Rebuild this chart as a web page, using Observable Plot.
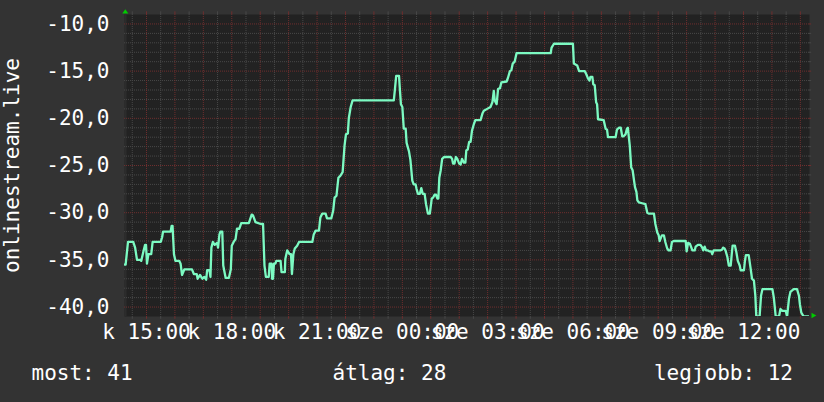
<!DOCTYPE html>
<html><head><meta charset="utf-8">
<script src="https://cdn.jsdelivr.net/npm/d3@7"></script>
<script src="https://cdn.jsdelivr.net/npm/@observablehq/plot@0.6"></script>
<style>
html,body{margin:0;padding:0;background:#333;}
#wrap{width:824px;height:402px;background:#333;position:relative;overflow:hidden;font-family:"DejaVu Sans Mono",monospace;color:#fff;}
#wrap svg{display:block;}
#legend{position:relative;height:50px;font-size:21px;line-height:21px;}
#legend span{position:absolute;top:11px;white-space:pre;}
</style></head><body><div id="wrap"></div>
<script>
// time in minutes since Tuesday (kedd) 00:00
const minutes = [
854,856,861,872,876,880,887,889,894,897,
899,901,904,910,913,930,933,935,951,953,
955,958,961,969,972,975,980,996,1000,1006,
1008,1013,1018,1022,1026,1028,1033,1035,1037,1040,
1044,1049,1051,1054,1056,1060,1062,1067,1074,1078,
1080,1084,1088,1091,1096,1100,1116,1122,1125,1130,
1141,1146,1149,1152,1158,1160,1164,1165,1167,1169,
1172,1174,1183,1185,1192,1193,1197,1202,1205,1207,
1210,1213,1218,1222,1250,1253,1257,1264,1267,1271,
1278,1281,1290,1294,1297,1301,1305,1309,1314,1318,
1321,1325,1327,1331,1335,1422,1424,1427,1433,1435,
1437,1440,1443,1447,1449,1454,1457,1461,1464,1468,
1470,1473,1477,1480,1483,1487,1490,1494,1498,1502,
1505,1508,1511,1514,1516,1518,1521,1524,1528,1542,
1545,1547,1550,1553,1556,1560,1563,1566,1570,1573,
1575,1578,1581,1584,1587,1591,1594,1605,1609,1612,
1619,1626,1630,1633,1635,1639,1642,1646,1649,1660,
1663,1667,1670,1673,1677,1681,1753,1755,1760,1800,
1802,1809,1813,1825,1828,1832,1835,1837,1841,1843,
1846,1849,1851,1853,1865,1869,1872,1874,1890,1893,
1897,1901,1904,1907,1911,1914,1916,1918,1920,1923,
1926,1929,1931,1934,1936,1939,1946,1953,1957,1960,
1971,1974,1978,1981,1983,1986,1988,1992,1995,1999,
2002,2006,2009,2013,2038,2040,2043,2047,2050,2052,
2057,2059,2064,2069,2073,2075,2078,2081,2085,2088,
2092,2094,2097,2111,2115,2117,2120,2122,2126,2129,
2133,2135,2137,2142,2145,2148,2152,2154,2161,2163,
2165,2171,2175,2178,2182,2185,2187,2194,2197,2200,
2221,2224,2228,2235,2238,2242,2249,2252,2256,2259,
2266,2273,2277,2279,2282,2287,2299
];
const values = [
-35.5,-35.5,-33.1,-33.1,-33.7,-35.0,-35.0,-35.1,-34.0,-33.4,
-33.4,-35.4,-34.4,-34.4,-33.1,-33.1,-32.6,-32.0,-32.0,-31.4,
-31.4,-34.4,-35.1,-35.1,-35.4,-36.6,-36.0,-36.0,-36.5,-36.5,
-37.0,-36.6,-37.0,-36.8,-37.1,-36.1,-36.1,-36.8,-33.7,-33.1,
-33.4,-33.2,-33.7,-32.3,-32.0,-32.0,-35.6,-36.9,-36.9,-36.0,
-33.5,-33.1,-32.8,-31.7,-31.7,-31.1,-31.1,-30.2,-30.3,-31.0,
-31.2,-31.2,-35.6,-36.8,-36.8,-35.4,-35.4,-37.0,-37.0,-35.4,
-35.4,-35.1,-35.1,-36.3,-36.3,-34.9,-34.0,-34.4,-34.4,-36.5,
-34.4,-33.8,-33.5,-33.1,-33.1,-32.3,-31.9,-31.9,-30.5,-30.1,
-30.1,-30.6,-30.6,-29.8,-28.4,-28.2,-26.3,-26.1,-25.7,-22.9,
-21.7,-21.6,-20.0,-18.8,-18.1,-18.1,-17.1,-15.5,-15.5,-17.1,
-18.5,-18.8,-21.1,-21.1,-22.6,-23.5,-24.4,-26.6,-27.0,-27.0,
-27.5,-28.0,-28.0,-27.4,-28.0,-28.0,-29.1,-30.1,-30.1,-28.5,
-28.4,-28.1,-28.1,-28.5,-28.5,-26.3,-25.5,-24.3,-24.1,-24.1,
-24.3,-24.8,-24.8,-24.1,-24.3,-24.8,-24.9,-24.3,-24.7,-24.7,
-23.4,-23.3,-22.5,-22.5,-21.3,-20.6,-20.2,-20.2,-19.5,-19.2,
-19.0,-18.8,-18.3,-17.1,-18.1,-18.5,-16.9,-16.8,-16.2,-16.1,
-15.7,-15.0,-14.9,-14.2,-14.0,-13.1,-13.1,-12.5,-12.1,-12.1,
-14.2,-14.4,-15.0,-15.0,-15.3,-15.8,-16.0,-15.6,-15.6,-16.4,
-16.5,-18.3,-18.5,-20.1,-20.2,-21.1,-21.2,-22.0,-22.0,-21.2,
-21.0,-21.0,-21.9,-21.9,-21.7,-21.1,-21.0,-22.0,-22.9,-25.2,
-25.5,-26.6,-27.3,-27.8,-28.7,-28.9,-29.0,-29.1,-30.0,-30.1,
-30.1,-31.2,-32.1,-32.4,-33.0,-32.6,-32.4,-32.4,-33.1,-33.8,
-34.0,-34.0,-33.1,-33.0,-33.0,-34.1,-33.2,-33.3,-33.7,-34.0,
-34.0,-33.6,-33.4,-33.4,-33.7,-34.0,-33.6,-34.0,-34.0,-34.1,
-34.1,-34.4,-34.0,-34.0,-33.9,-33.7,-33.8,-34.0,-34.7,-35.6,
-35.6,-34.5,-33.5,-33.5,-34.2,-35.1,-35.6,-36.1,-36.1,-35.1,
-34.5,-34.5,-35.9,-37.0,-37.2,-38.8,-41.0,-41.0,-38.8,-38.1,
-38.1,-39.0,-41.0,-41.0,-40.2,-40.4,-40.4,-41.0,-39.1,-38.4,
-38.1,-38.1,-38.8,-39.7,-40.6,-41.0,-41.0
];
const xTickMinutes = [900,1080,1260,1440,1620,1800,1980,2160];
const xTickLabels = ["k 15:00","k 18:00","k 21:00","sze 00:00","sze 03:00","sze 06:00","sze 09:00","sze 12:00"];
const yTicks = [-40,-35,-30,-25,-20,-15,-10];
const yTitle = "onlinestream.live";
const legendLabels = ["most","átlag","legjobb"];
const legendValues = [41,28,12];

const xDomain = [853.6, 2299.3];
const yDomain = [-41, -9];

const series = minutes.map((m, i) => ({m, v: values[i]}));
const xHalf = d3.range(870, xDomain[1], 30);
const xMinor = xHalf.filter(m => m % 60 !== 0);
const xMajor = xHalf.filter(m => m % 60 === 0);
const yMinor = d3.range(-40, -9, 1).filter(v => v % 5 !== 0);
const yMajor = yTicks;

const gray = "#484848", red = "#6e2e2e";
const upArrow = {draw(ctx){ctx.moveTo(0,-4.2);ctx.lineTo(3,0);ctx.lineTo(-3,0);ctx.closePath();}};
const rightArrow = {draw(ctx){ctx.moveTo(4.8,0);ctx.lineTo(0,-2.7);ctx.lineTo(0,2.7);ctx.closePath();}};

const chart = Plot.plot({
  width: 824, height: 352,
  marginLeft: 124, marginRight: 15, marginTop: 14, marginBottom: 36,
  x: {domain: xDomain},
  y: {domain: yDomain},
  style: {background: "transparent", color: "#fff", fontFamily: "DejaVu Sans Mono", fontSize: "21px", overflow: "visible"},
  marks: [
    Plot.frame({fill: "#222", stroke: "none"}),
    Plot.ruleX([xDomain[0]], {stroke: "#2c2c2c", strokeWidth: 2, dx: 1}),
    Plot.ruleY(yMinor, {stroke: gray, strokeDasharray: "1,1"}),
    Plot.ruleX(xMinor, {stroke: gray, strokeDasharray: "1,1"}),
    Plot.ruleY(yMajor, {stroke: red, strokeDasharray: "1,1"}),
    Plot.ruleX(xMajor, {stroke: red, strokeDasharray: "1,1"}),
    // small tick stubs outside the frame
    Plot.ruleX(xMinor, {x: d => d, y1: -9, y2: -8.72, stroke: gray}),
    Plot.ruleX(xMinor, {x: d => d, y1: -41, y2: -41.3, stroke: gray}),
    Plot.ruleX(xMajor, {x: d => d, y1: -9, y2: -8.72, stroke: red}),
    Plot.ruleX(xMajor, {x: d => d, y1: -41, y2: -41.3, stroke: red}),
    Plot.ruleY(yMinor, {y: d => d, x1: xDomain[1], x2: xDomain[1] + 4.5, stroke: gray}),
    Plot.ruleY(yMajor, {y: d => d, x1: xDomain[1], x2: xDomain[1] + 4.5, stroke: red}),
    Plot.line(series, {x: "m", y: "v", stroke: "#7cfac2", strokeWidth: 2.3, clip: true}),
    Plot.axisY(yTicks, {tickFormat: d => d.toFixed(1).replace(".", ","), tickSize: 0, tickPadding: 15, label: null, fill: "#fff", fontSize: 21}),
    Plot.axisX(xTickMinutes, {tickFormat: d => xTickLabels[xTickMinutes.indexOf(d)], tickSize: 0, tickPadding: 8, label: null, fill: "#fff", fontSize: 21}),
    Plot.text([yTitle], {text: d => d, frameAnchor: "left", textAnchor: "middle", rotate: -90, dx: -112, fill: "#fff", fontSize: 21}),
    Plot.dot([0], {frameAnchor: "top-left", symbol: upArrow, fill: "#0c0", stroke: "none", dx: 0.8, dy: -1}),
    Plot.dot([0], {frameAnchor: "bottom-right", symbol: rightArrow, fill: "#0c0", stroke: "none", dx: 2, dy: -1})
  ]
});

const wrap = document.getElementById("wrap");
wrap.appendChild(chart);
const legend = document.createElement("div");
legend.id = "legend";
const pos = [{left: "31.5px"}, {left: "332.5px"}, {right: "31px"}];
legendLabels.forEach((lab, i) => {
  const s = document.createElement("span");
  s.textContent = lab + ": " + legendValues[i];
  Object.assign(s.style, pos[i]);
  legend.appendChild(s);
});
wrap.appendChild(legend);
</script></body></html>
